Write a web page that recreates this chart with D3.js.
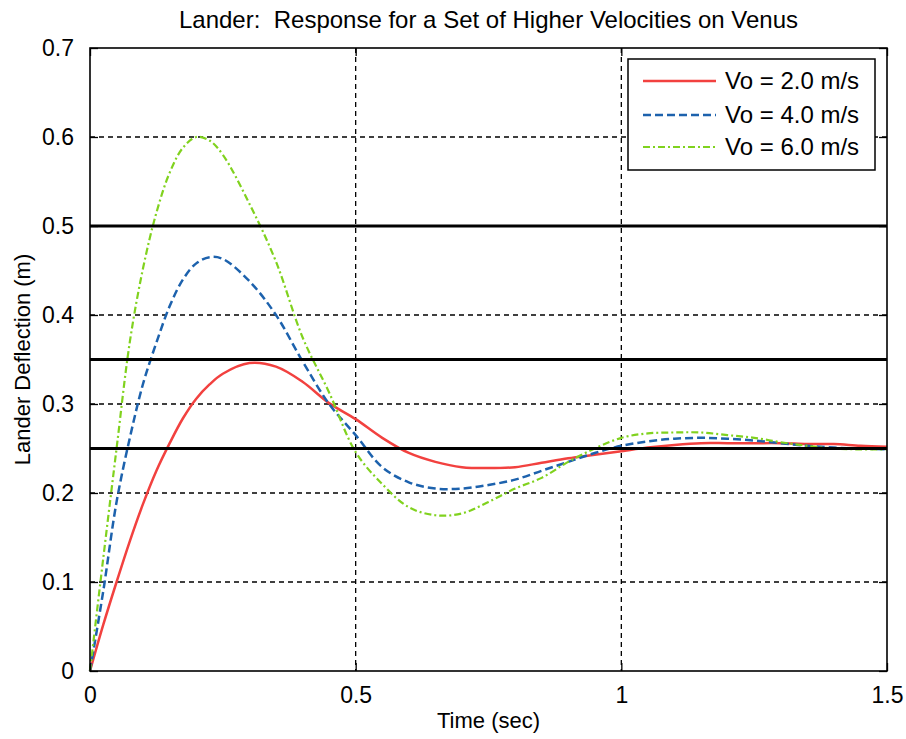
<!DOCTYPE html>
<html><head><meta charset="utf-8">
<script src="https://cdn.jsdelivr.net/npm/d3@7"></script>
<style>
html,body{margin:0;padding:0;background:#fff;}
text{font-family:"Liberation Sans",Arial,sans-serif;fill:#000;}
</style></head>
<body><svg id="chart" width="906" height="739"></svg>
<script>
const title = "Lander:  Response for a Set of Higher Velocities on Venus";
const xLabel = "Time (sec)";
const yLabel = "Lander Deflection (m)";
const xTicks = [0, 0.5, 1, 1.5];
const xTickLabels = ["0", "0.5", "1", "1.5"];
const yTicks = [0, 0.1, 0.2, 0.3, 0.4, 0.5, 0.6, 0.7];
const yTickLabels = ["0", "0.1", "0.2", "0.3", "0.4", "0.5", "0.6", "0.7"];
const limitLines = [0.5, 0.35, 0.25];
const time = [0,0.025,0.05,0.075,0.1,0.125,0.15,0.175,0.2,0.225,0.25,0.3,0.35,0.4,0.45,0.5,0.55,0.6,0.65,0.7,0.75,0.8,0.85,0.9,0.95,1.0,1.05,1.1,1.15,1.2,1.25,1.3,1.35,1.4,1.45,1.5];
const vo2 = [0,0.052,0.10,0.146,0.188,0.225,0.256,0.284,0.306,0.322,0.334,0.346,0.342,0.325,0.301,0.283,0.262,0.245,0.235,0.229,0.228,0.229,0.234,0.239,0.243,0.247,0.251,0.254,0.256,0.256,0.256,0.256,0.255,0.255,0.253,0.252];
const vo4 = [0,0.09,0.19,0.262,0.323,0.369,0.41,0.44,0.458,0.465,0.463,0.438,0.40,0.348,0.300,0.265,0.229,0.212,0.205,0.205,0.209,0.215,0.225,0.235,0.245,0.253,0.258,0.261,0.262,0.261,0.259,0.256,0.253,0.251,0.250,0.249];
const vo6 = [0,0.127,0.25,0.37,0.453,0.515,0.56,0.588,0.600,0.596,0.58,0.525,0.46,0.375,0.313,0.246,0.21,0.184,0.175,0.177,0.19,0.205,0.217,0.235,0.25,0.262,0.267,0.268,0.268,0.265,0.262,0.257,0.253,0.25,0.249,0.249];
const seriesNames = ["Vo = 2.0 m/s", "Vo = 4.0 m/s", "Vo = 6.0 m/s"];
const seriesValues = [vo2, vo4, vo6];
const seriesColors = ["#f2413f", "#1d62ad", "#80d21e"];
const seriesDash = [null, "8,4", "7,3,2,3"];
const seriesWidth = [2.5, 2.5, 2.2];

const svg = d3.select("#chart");
const L = 90, R = 887, T = 48, B = 671;
const x = d3.scaleLinear().domain([0, 1.5]).range([L, R]);
const y = d3.scaleLinear().domain([0, 0.7]).range([B, T]);

// grid
const grid = svg.append("g");
grid.selectAll("line.gx").data(xTicks.slice(1, -1)).enter().append("line")
  .attr("x1", d => x(d)).attr("x2", d => x(d)).attr("y1", T).attr("y2", B)
  .attr("stroke", "#000").attr("stroke-width", 1.3).attr("stroke-dasharray", "5,4");
grid.selectAll("line.gy").data(yTicks.slice(1, -1)).enter().append("line")
  .attr("x1", L).attr("x2", R).attr("y1", d => y(d)).attr("y2", d => y(d))
  .attr("stroke", "#000").attr("stroke-width", 1.3).attr("stroke-dasharray", "5,4");

// series
const line = d3.line().x((d, i) => x(time[i])).y(d => y(d)).curve(d3.curveCatmullRom.alpha(0.5));
seriesValues.forEach((vals, k) => {
  svg.append("path").datum(vals).attr("d", line).attr("fill", "none")
    .attr("stroke", seriesColors[k]).attr("stroke-width", seriesWidth[k])
    .attr("stroke-dasharray", seriesDash[k]);
});

// limit lines
svg.selectAll("line.lim").data(limitLines).enter().append("line")
  .attr("x1", L).attr("x2", R).attr("y1", d => y(d)).attr("y2", d => y(d))
  .attr("stroke", "#000").attr("stroke-width", 3.2);

// axes
const axB = svg.append("g").attr("transform", `translate(0,${B})`)
  .call(d3.axisBottom(x).tickValues(xTicks).tickFormat((d, i) => xTickLabels[i]).tickSizeInner(-8).tickSizeOuter(0).tickPadding(16));
const axT = svg.append("g").attr("transform", `translate(0,${T})`)
  .call(d3.axisTop(x).tickValues(xTicks).tickFormat("").tickSizeInner(-8).tickSizeOuter(0));
const axLft = svg.append("g").attr("transform", `translate(${L},0)`)
  .call(d3.axisLeft(y).tickValues(yTicks).tickFormat((d, i) => yTickLabels[i]).tickSizeInner(-8).tickSizeOuter(0).tickPadding(16));
const axRt = svg.append("g").attr("transform", `translate(${R},0)`)
  .call(d3.axisRight(y).tickValues(yTicks).tickFormat("").tickSizeInner(-8).tickSizeOuter(0));
[axB, axT, axLft, axRt].forEach(g => {
  g.select(".domain").remove();
  g.selectAll(".tick line").attr("stroke", "#000").attr("stroke-width", 1.3);
  g.selectAll("text").attr("font-size", 23).attr("font-family", "Liberation Sans, Arial, sans-serif").attr("fill", "#000");
});
svg.append("rect").attr("x", L).attr("y", T).attr("width", R - L).attr("height", B - T)
  .attr("fill", "none").attr("stroke", "#000").attr("stroke-width", 1.6);

// labels
svg.append("text").attr("x", (L + R) / 2).attr("y", 28).attr("text-anchor", "middle")
  .attr("font-size", 24).attr("xml:space", "preserve").style("white-space", "pre").text(title);
svg.append("text").attr("x", (L + R) / 2).attr("y", 728).attr("text-anchor", "middle")
  .attr("font-size", 22).text(xLabel);
svg.append("text").attr("transform", `translate(30,${(T + B) / 2}) rotate(-90)`).attr("text-anchor", "middle")
  .attr("font-size", 22).text(yLabel);

// legend
const lg = svg.append("g");
lg.append("rect").attr("x", 628).attr("y", 59).attr("width", 247).attr("height", 111)
  .attr("fill", "#fff").attr("stroke", "#000").attr("stroke-width", 1.5);
const rowY = [81, 115, 147];
seriesNames.forEach((name, k) => {
  lg.append("line").attr("x1", 643).attr("x2", 716).attr("y1", rowY[k]).attr("y2", rowY[k])
    .attr("stroke", seriesColors[k]).attr("stroke-width", seriesWidth[k])
    .attr("stroke-dasharray", seriesDash[k]);
  lg.append("text").attr("x", 725).attr("y", rowY[k] + 8).attr("font-size", 24).text(name);
});
</script></body></html>
